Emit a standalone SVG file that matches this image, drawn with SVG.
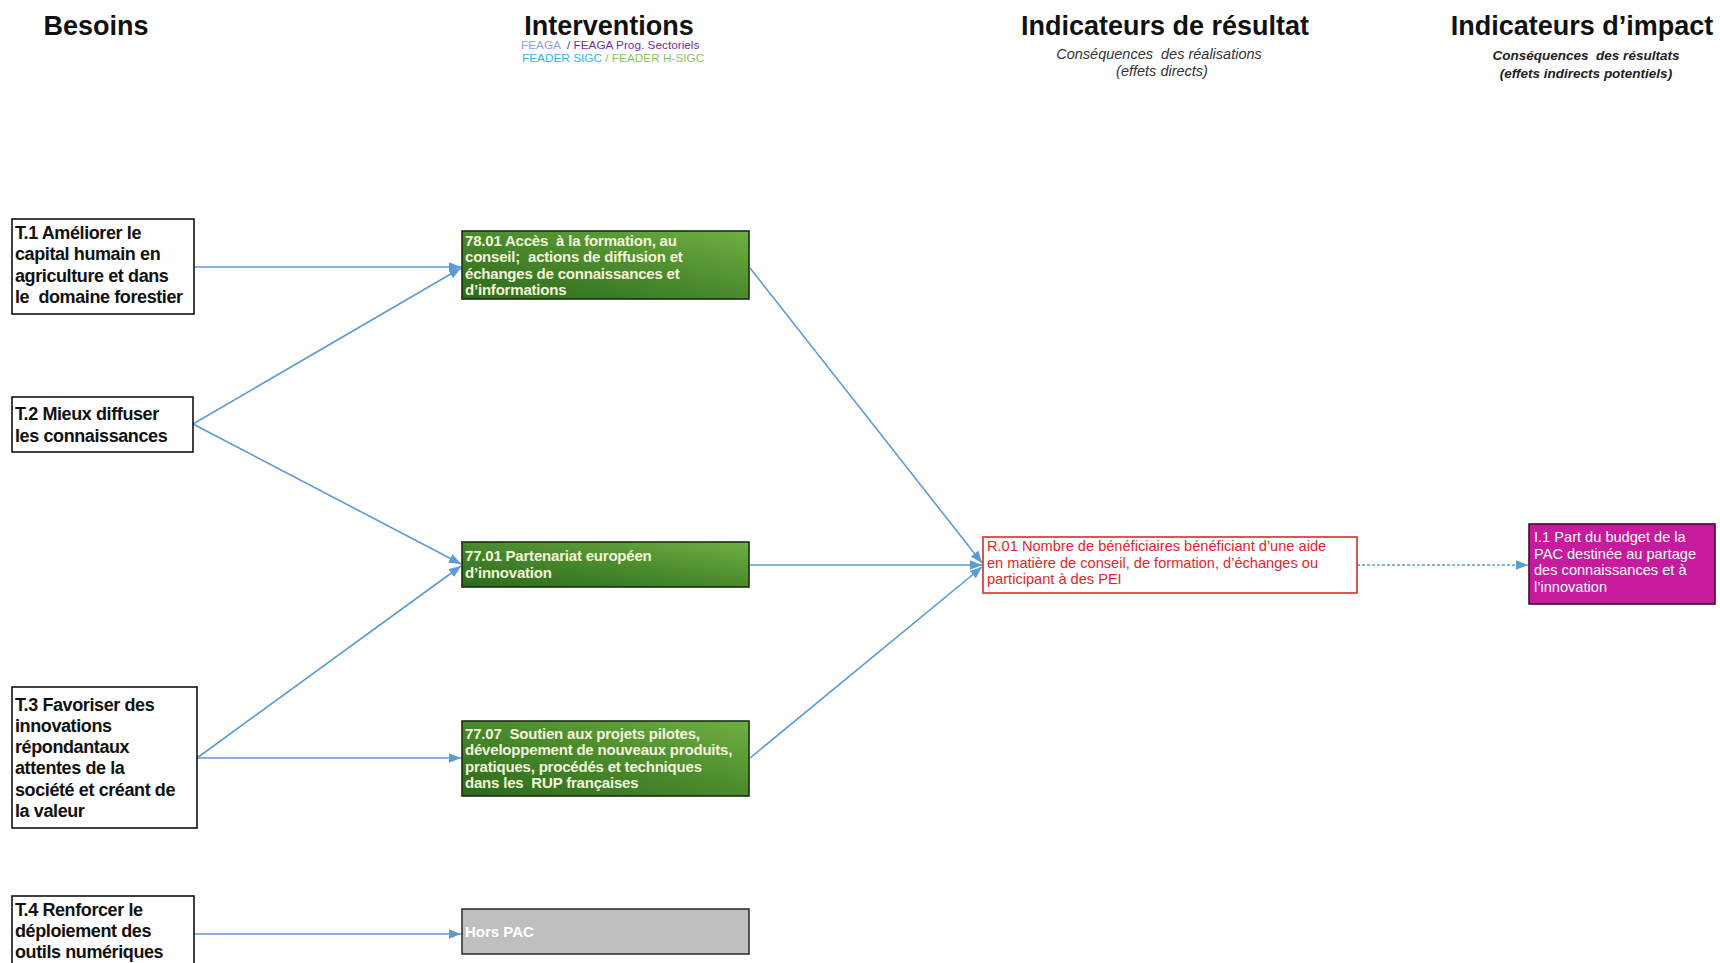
<svg xmlns="http://www.w3.org/2000/svg" width="1720" height="963" viewBox="0 0 1720 963">
<style>
text{white-space:pre}
.title{font-family:"Liberation Sans",Arial,sans-serif;font-weight:bold;font-size:27px;fill:#111;text-anchor:middle}
.sub{font-family:"Liberation Sans",Arial,sans-serif;font-style:italic;font-size:14.5px;fill:#333;text-anchor:middle}
.subb{font-family:"Liberation Sans",Arial,sans-serif;font-style:italic;font-weight:bold;font-size:13.5px;fill:#222;text-anchor:middle}
.leg{font-family:"Liberation Sans",Arial,sans-serif;font-size:11.8px}
.need rect{fill:#fff;stroke:#111;stroke-width:1.6}
.need text{font-family:"Liberation Sans",Arial,sans-serif;font-weight:bold;font-size:18px;fill:#111;letter-spacing:-0.4px}
.interv rect{fill:url(#green);stroke:#1a2e10;stroke-width:1.6}
.interv text{font-family:"Liberation Sans",Arial,sans-serif;font-weight:bold;font-size:15px;fill:#f3f5dc;letter-spacing:-0.2px}
.hors rect{fill:#bfbfbf;stroke:#333;stroke-width:1.6}
.hors text{font-family:"Liberation Sans",Arial,sans-serif;font-weight:bold;font-size:15px;fill:#fff}
.res rect{fill:#fff;stroke:#d92a2e;stroke-width:1.6}
.res text{font-family:"Liberation Sans",Arial,sans-serif;font-size:14.6px;fill:#e0262c}
.imp rect{fill:#c61b9d;stroke:#3a0e2e;stroke-width:1.6}
.imp text{font-family:"Liberation Sans",Arial,sans-serif;font-size:14.6px;fill:#fff}
.conn line{stroke:#5b9bd5;stroke-width:1.6;fill:none}
</style>
<defs>
<linearGradient id="green" x1="0" y1="1" x2="1" y2="0">
<stop offset="0" stop-color="#2c6a1c"/>
<stop offset="0.55" stop-color="#4d8d2e"/>
<stop offset="1" stop-color="#6fb043"/>
</linearGradient>
<marker id="arr" viewBox="0 0 10 8" refX="10" refY="4" markerWidth="12" markerHeight="10" markerUnits="userSpaceOnUse" orient="auto">
<path d="M0,0 L10,4 L0,8 z" fill="#5b9bd5"/>
</marker>
</defs>

<g id="headers">
<text class="title" x="96" y="35">Besoins</text>
<text class="title" x="609" y="35">Interventions</text>
<text class="leg" x="521" y="49"><tspan fill="#8ea3dc">FEAGA  </tspan><tspan fill="#7030a0">/ FEAGA Prog. Sectoriels</tspan></text>
<text class="leg" x="522" y="62"><tspan fill="#29b6ef">FEADER SIGC</tspan><tspan fill="#8cc45a"> / FEADER H-SIGC</tspan></text>
<text class="title" x="1165" y="35">Indicateurs de résultat</text>
<text class="sub" x="1159" y="59">Conséquences  des réalisations</text>
<text class="sub" x="1162" y="76">(effets directs)</text>
<text class="title" x="1582" y="35">Indicateurs d’impact</text>
<text class="subb" x="1586" y="60">Conséquences  des résultats</text>
<text class="subb" x="1586" y="78">(effets indirects potentiels)</text>
</g>

<g id="conn" class="conn">
<line x1="194" y1="267" x2="461" y2="267" marker-end="url(#arr)"/>
<line x1="193" y1="424" x2="461" y2="268" marker-end="url(#arr)"/>
<line x1="193" y1="424" x2="461" y2="564" marker-end="url(#arr)"/>
<line x1="197" y1="758" x2="461" y2="566" marker-end="url(#arr)"/>
<line x1="197" y1="758" x2="461" y2="758" marker-end="url(#arr)"/>
<line x1="194" y1="934" x2="461" y2="934" marker-end="url(#arr)"/>
<line x1="750" y1="268" x2="982" y2="563" marker-end="url(#arr)"/>
<line x1="750" y1="565" x2="982" y2="565" marker-end="url(#arr)"/>
<line x1="750" y1="758" x2="982" y2="567" marker-end="url(#arr)"/>
<line x1="1357" y1="565" x2="1528" y2="565" stroke-dasharray="3 2" marker-end="url(#arr)"/>
</g>

<g id="T1" class="need">
<rect x="12" y="219" width="182" height="95"/>
<text x="15" y="239">T.1 Améliorer le</text>
<text x="15" y="260">capital humain en</text>
<text x="15" y="281.5">agriculture et dans</text>
<text x="15" y="303">le  domaine forestier</text>
</g>
<g id="T2" class="need">
<rect x="12" y="397" width="181" height="55"/>
<text x="15" y="420">T.2 Mieux diffuser</text>
<text x="15" y="442">les connaissances</text>
</g>
<g id="T3" class="need">
<rect x="12" y="687" width="185" height="141"/>
<text x="15" y="711">T.3 Favoriser des</text>
<text x="15" y="732">innovations</text>
<text x="15" y="753">répondantaux</text>
<text x="15" y="774">attentes de la</text>
<text x="15" y="796">société et créant de</text>
<text x="15" y="817">la valeur</text>
</g>
<g id="T4" class="need">
<rect x="12" y="896" width="182" height="80"/>
<text x="15" y="916">T.4 Renforcer le</text>
<text x="15" y="937">déploiement des</text>
<text x="15" y="958">outils numériques</text>
</g>

<g id="I7801" class="interv">
<rect x="462" y="231" width="287" height="68"/>
<text x="465" y="245.5">78.01 Accès  à la formation, au</text>
<text x="465" y="262">conseil;  actions de diffusion et</text>
<text x="465" y="278.5">échanges de connaissances et</text>
<text x="465" y="295">d’informations</text>
</g>
<g id="I7701" class="interv">
<rect x="462" y="542" width="287" height="45"/>
<text x="465" y="560.5">77.01 Partenariat européen</text>
<text x="465" y="577.5">d’innovation</text>
</g>
<g id="I7707" class="interv">
<rect x="462" y="721" width="287" height="75"/>
<text x="465" y="738.5">77.07  Soutien aux projets pilotes,</text>
<text x="465" y="755">développement de nouveaux produits,</text>
<text x="465" y="771.5">pratiques, procédés et techniques</text>
<text x="465" y="788">dans les  RUP françaises</text>
</g>
<g id="HorsPAC" class="hors">
<rect x="462" y="909" width="287" height="45"/>
<text x="465" y="936.5">Hors PAC</text>
</g>

<g id="R01" class="res">
<rect x="983" y="537" width="374" height="56"/>
<text x="987" y="551">R.01 Nombre de bénéficiaires bénéficiant d’une aide</text>
<text x="987" y="567.5">en matière de conseil, de formation, d’échanges ou</text>
<text x="987" y="584">participant à des PEI</text>
</g>

<g id="I1" class="imp">
<rect x="1529" y="524" width="186" height="80"/>
<text x="1534" y="542">I.1 Part du budget de la</text>
<text x="1534" y="558.5">PAC destinée au partage</text>
<text x="1534" y="575">des connaissances et à</text>
<text x="1534" y="591.5">l’innovation</text>
</g>
</svg>
